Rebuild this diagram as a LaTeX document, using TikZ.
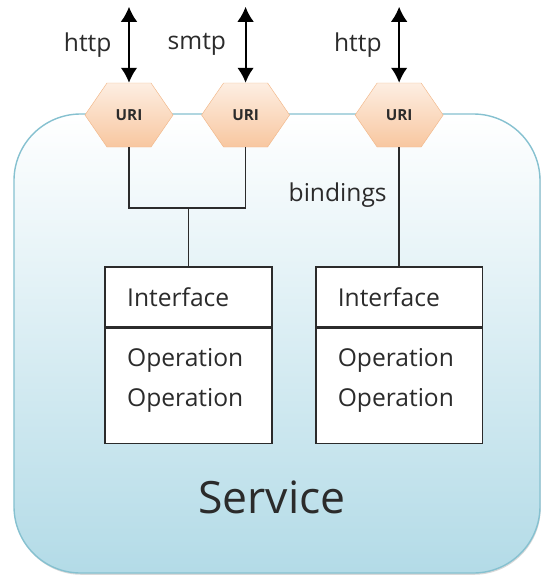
\documentclass[tikz,border=0pt]{standalone}
\usepackage{fontspec}
\setmainfont{Open Sans}
\usetikzlibrary{arrows.meta,positioning,shapes.symbols,shadows}
\definecolor{svcLine}{HTML}{86C1D0}
\definecolor{svcFill}{HTML}{B3DBE7}
\definecolor{uriLine}{HTML}{F2B88A}
\definecolor{uriTop}{HTML}{FDEEE2}
\definecolor{uriBot}{HTML}{F8C7A0}
\definecolor{ink}{HTML}{2B2B2B}

\begin{document}
\begin{tikzpicture}[x=0.03cm, y=-0.03cm,
  node distance=0cm and 1.29cm,
  svc/.style={draw=svcLine, line width=1.2pt, top color=white, bottom color=svcFill,
              rounded corners=2cm, minimum width=15.78cm, minimum height=13.77cm,
              drop shadow={shadow xshift=0.6pt, shadow yshift=-1.5pt, opacity=0.3}},
  uri/.style={signal, signal to=east and west, signal pointer angle=111,
              draw=uriLine, top color=uriTop, bottom color=uriBot,
              minimum width=2.64cm, minimum height=1.92cm, inner sep=0pt,
              font=\fontsize{13}{15}\selectfont\bfseries, text=ink},
  hdr/.style={draw=ink, line width=1.3pt, fill=white, minimum height=1.8cm,
              text width=3.68cm, inner xsep=0.66cm, align=left,
              font=\fontsize{21}{34}\selectfont, text=ink},
  ops/.style={hdr, minimum height=3.45cm, text depth=1.71cm},
  lbl/.style={font=\fontsize{21}{25}\selectfont, text=ink},
  io/.style={{Latex[length=0.45cm,width=0.5cm]}-{Latex[length=0.45cm,width=0.5cm]},
             line width=1.6pt, black},
  wire/.style={draw=ink, line width=1.5pt}
]
\useasboundingbox (0,0) rectangle (541,575);
\node[svc] (service) at (277,343.5) {};
\node[font=\fontsize{38}{44}\selectfont, text=ink] (svcname) at (272,497) {Service};
% endpoints on the service border
\node[uri] (uriA) at (129,115) {URI};
\node[uri, right=0.84cm of uriA] (uriB) {URI};
\node[uri, right=1.95cm of uriB] (uriC) {URI};
\coordinate[above=2.28cm of uriA.north] (topA);
\coordinate[above=2.28cm of uriB.north] (topB);
\coordinate[above=2.28cm of uriC.north] (topC);
\draw[io] (topA) -- node[lbl, left=0.38cm] (httpA) {http} (uriA.north);
\draw[io] (topB) -- node[lbl, left=0.44cm] (smtp) {smtp} (uriB.north);
\draw[io] (topC) -- node[lbl, left=0.38cm] (httpC) {http} (uriC.north);
% interfaces
\node[hdr] (hdrA) at (188.5,297) {Interface};
\node[ops, below=of hdrA] (opsA) {Operation\\Operation};
\node[hdr] (hdrB) at (uriC |- hdrA) {Interface};
\node[ops, below=of hdrB] (opsB) {Operation\\Operation};
% bindings
\coordinate (busA) at (188.5,208);
\draw[wire] (uriA.south) |- (busA) -| (uriB.south);
\draw[wire] (busA) -- (hdrA.north);
\draw[wire] (uriC.south) -- node[lbl, pos=0.4, left=0.23cm] (bind) {bindings} (hdrB.north);
\end{tikzpicture}
\end{document}
